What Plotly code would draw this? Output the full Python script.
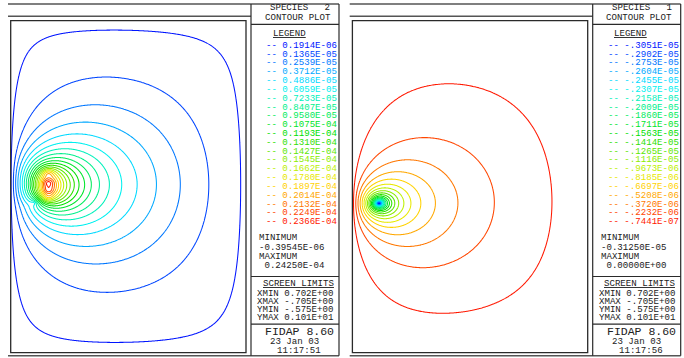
import numpy as np
import plotly.graph_objects as go

FIG_W, FIG_H = 684, 358

# ---------------- values printed on the two FIDAP panels ----------------
species2_levels = [0.1914e-06, 0.1365e-05, 0.2539e-05, 0.3712e-05, 0.4886e-05, 0.6059e-05,
                   0.7233e-05, 0.8407e-05, 0.9580e-05, 0.1075e-04, 0.1193e-04, 0.1310e-04,
                   0.1427e-04, 0.1545e-04, 0.1662e-04, 0.1780e-04, 0.1897e-04, 0.2014e-04,
                   0.2132e-04, 0.2249e-04, 0.2366e-04]
species1_levels = [-0.3051e-05, -0.2902e-05, -0.2753e-05, -0.2604e-05, -0.2455e-05, -0.2307e-05,
                   -0.2158e-05, -0.2009e-05, -0.1860e-05, -0.1711e-05, -0.1563e-05, -0.1414e-05,
                   -0.1265e-05, -0.1116e-05, -0.9673e-06, -0.8185e-06, -0.6697e-06, -0.5208e-06,
                   -0.3720e-06, -0.2232e-06, -0.7441e-07]
species2_min, species2_max = -0.39545e-06, 0.24250e-04
species1_min, species1_max = -0.31250e-05, 0.0
limit_names = ["XMIN", "XMAX", "YMIN", "YMAX"]
limit_values = [0.702, -0.705, -0.575, 1.01]
run_dates = ["23 Jan 03", "23 Jan 03"]
run_times = ["11:17:51", "11:17:56"]

# source / sink nodes in box coordinates (box width 1), strengths and spread
BOX_W, BOX_H = 1.0, 332.0 / 235.3
species2_vertical_diffusivity = 0.56
species2_src_x = [0.1585, 0.1585, 0.1585, 0.1585, 0.099]
species2_src_y = [0.762, 0.722, 0.691, 0.660, 0.636]
species2_src_q = [0.8, 1.0, 0.85, 0.7, -0.35]
species2_src_s = [0.0115, 0.0115, 0.0115, 0.0115, 0.005]
species1_vertical_diffusivity = 0.64
species1_src_x = [0.113]
species1_src_y = [0.635]
species1_src_q = [-1.0]
species1_src_s = [0.006]

# rainbow used by FIDAP for the 21 contour levels (blue -> red)
level_colors = ["#0015ff", "#0046ff", "#0077ff", "#00a8ff", "#00d9ff", "#00f0f0", "#00f0bc",
                "#00f08c", "#00eb5c", "#00e52c", "#00e000", "#2ee000", "#5ce600", "#8cec00",
                "#bcf000", "#e8e800", "#ffd200", "#ffa800", "#ff7700", "#ff4600", "#ff1800"]

MONO = "Liberation Mono"
INK = "#222222"


def fidap_num(v, digits):
    """FIDAP style: 0.1914E-06 / -.3051E-05"""
    if v == 0:
        return "0." + "0" * digits + "E+00"
    e = int(np.floor(np.log10(abs(v)))) + 1
    m = abs(v) / 10.0 ** e
    s = f"{m:.{digits}f}"
    if v < 0:
        s = "-" + s[1:]
    return f"{s}E{e:+03d}"


def fidap_extreme(v):
    if v == 0:
        return " 0.00000E+00"
    e = int(np.floor(np.log10(abs(v)))) + 1
    m = abs(v) / 10.0 ** e
    return ("-" if v < 0 else " ") + f"{m:.5f}E{e:+03d}"


def axis_grid(L, centers, n_coarse, half, step):
    parts = [np.linspace(0, L, n_coarse)]
    for c in centers:
        parts.append(np.arange(c - half, c + half, step))
    g = np.concatenate(parts)
    g = g[(g >= 0) & (g <= L)]
    return np.unique(np.round(g, 6))


def box_field(xs, ys, qs, ss, dy):
    """Steady anisotropic diffusion in the box, zero concentration on the walls."""
    smin = min(ss)
    kmax = 5.5 / smin
    M = int(kmax * BOX_W / np.pi) + 1
    N = int(kmax * BOX_H / np.pi) + 1
    k = np.pi * np.arange(1, M + 1) / BOX_W
    l = np.pi * np.arange(1, N + 1) / BOX_H
    K2 = k[:, None] ** 2 + dy * l[None, :] ** 2
    C = np.zeros((M, N))
    for x0, y0, q, s in zip(xs, ys, qs, ss):
        C += q * np.outer(np.sin(k * x0), np.sin(l * y0)) * np.exp(-0.5 * s * s * K2)
    C /= K2
    gx = axis_grid(BOX_W, sorted(set(xs)), 190, 0.12, 0.002)
    gy = axis_grid(BOX_H, sorted(set(ys)), 270, 0.12, 0.002)
    Sx = np.sin(np.outer(gx, k))
    Sy = np.sin(np.outer(gy, l))
    return gx, gy, Sy @ C.T @ Sx.T


x2, y2, f2 = box_field(species2_src_x, species2_src_y, species2_src_q, species2_src_s,
                       species2_vertical_diffusivity)
z2 = (f2 / f2.max() * species2_max).astype(np.float32)
x1, y1, f1 = box_field(species1_src_x, species1_src_y, species1_src_q, species1_src_s,
                       species1_vertical_diffusivity)
z1 = (f1 / f1.min() * species1_min).astype(np.float32)


def px(x):
    return x / FIG_W


def py(y):
    return 1 - y / FIG_H


def level_contour(x, y, z, levels, xa, ya):
    n = len(levels)
    step = (levels[-1] - levels[0]) / (n - 1)
    scale = [[i / (n - 1), c] for i, c in enumerate(level_colors)]
    return go.Contour(
        x=x, y=y, z=z, xaxis=xa, yaxis=ya, autocontour=False,
        contours=dict(start=levels[0], end=levels[-1] + 0.01 * step, size=step,
                      coloring="lines", showlabels=False),
        line=dict(width=1.05, smoothing=0.8),
        colorscale=scale, zmin=levels[0], zmax=levels[-1],
        showscale=False, hoverinfo="skip",
    )


fig = go.Figure()
fig.add_trace(level_contour(x2, y2, z2, species2_levels, "x", "y"))
fig.add_trace(level_contour(x1, y1, z1, species1_levels, "x2", "y2"))

shapes = []
annotations = []


def line(x0, y0, x1_, y1_, color, width):
    shapes.append(dict(type="line", xref="paper", yref="paper",
                       x0=px(x0), y0=py(y0), x1=px(x1_), y1=py(y1_),
                       line=dict(color=color, width=width)))


def text(x, y, s, size=9.1, color=INK, anchor="left"):
    annotations.append(dict(xref="paper", yref="paper", x=px(x), y=py(y),
                            text=s.replace(" ", "\u00a0"), showarrow=False,
                            xanchor=anchor, yanchor="middle",
                            font=dict(family=MONO, size=size, color=color)))


panels = [
    dict(dx=0.0, title="SPECIES   2", levels=species2_levels, vmin=species2_min,
         vmax=species2_max),
    dict(dx=341.7, title="SPECIES   1", levels=species1_levels, vmin=species1_min,
         vmax=species1_max),
]

GRAY = "#555555"
DARK = "#2a2a2a"
for i, p in enumerate(panels):
    dx = p["dx"]
    # page rules
    line(8 + dx, 4, 339 + dx, 4, GRAY, 1.6)
    line(8 + dx, 16.3, 251 + dx, 16.3, GRAY, 1.6)
    line(8 + dx, 355.8, 339 + dx, 355.8, GRAY, 1.6)
    # plot frame
    shapes.append(dict(type="rect", xref="paper", yref="paper",
                       x0=px(10.7 + dx), y0=py(352.7), x1=px(246 + dx), y1=py(20.7),
                       line=dict(color=DARK, width=1.3)))
    # legend column
    line(251 + dx, 4, 251 + dx, 355.8, DARK, 1.2)
    line(339 + dx, 4, 339 + dx, 355.8, DARK, 1.2)
    for yy in (24.3, 276.5, 324.2):
        line(251 + dx, yy, 339 + dx, yy, DARK, 1.2)

    text(268 + dx, 7.6, p["title"])
    text(262.5 + dx, 17.4, "CONTOUR PLOT")
    text(270.5 + dx, 33.3, "<u>LEGEND</u>")
    for j, v in enumerate(p["levels"]):
        text(264 + dx, 45.2 + j * 8.83, "-- " + fidap_num(v, 4), color=level_colors[j])
    text(257 + dx, 237.8, "MINIMUM")
    text(257 + dx, 247.3, fidap_extreme(p["vmin"]))
    text(257 + dx, 256.2, "MAXIMUM")
    text(257 + dx, 265.2, fidap_extreme(p["vmax"]))
    text(260.5 + dx, 283.4, "<u>SCREEN LIMITS</u>")
    for j, (nm, v) in enumerate(zip(limit_names, limit_values)):
        text(255 + dx, 293.4 + j * 8.15, f"{nm} {fidap_num(v, 3)}")
    text(263 + dx, 331.8, "FIDAP 8.60", size=11.5)
    text(268 + dx, 341.8, run_dates[i])
    text(275 + dx, 350.2, run_times[i])

axis_common = dict(visible=False, showgrid=False, zeroline=False, fixedrange=True)
fig.update_layout(
    width=FIG_W, height=FIG_H,
    margin=dict(l=0, r=0, t=0, b=0),
    paper_bgcolor="white", plot_bgcolor="white",
    showlegend=False,
    xaxis=dict(domain=[px(10.7), px(246)], range=[0, BOX_W], **axis_common),
    yaxis=dict(domain=[py(352.7), py(20.7)], range=[0, BOX_H], **axis_common),
    xaxis2=dict(domain=[px(10.7 + 341.7), px(246 + 341.7)], range=[0, BOX_W], **axis_common),
    yaxis2=dict(domain=[py(352.7), py(20.7)], range=[0, BOX_H], **axis_common),
    shapes=shapes,
    annotations=annotations,
)

fig.write_html("out.html")
